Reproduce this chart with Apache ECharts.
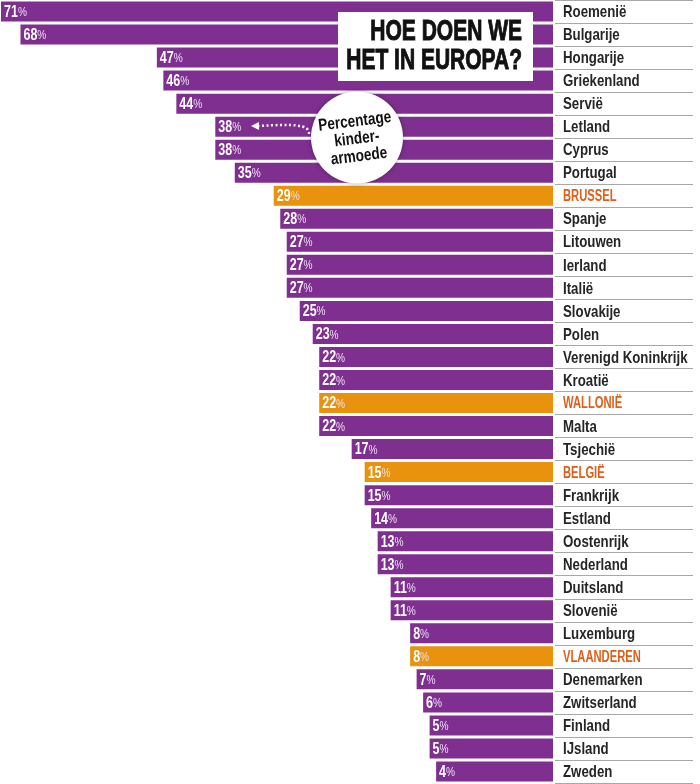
<!DOCTYPE html>
<html>
<head>
<meta charset="utf-8">
<script src="https://cdn.jsdelivr.net/npm/echarts@6/dist/echarts.min.js"></script>
<style>
html,body{margin:0;padding:0;background:#fff;}
#chart{width:700px;height:784px;}
</style>
</head>
<body>
<div id="chart"></div>
<script>
const countries = ['Roemenië','Bulgarije','Hongarije','Griekenland','Servië','Letland','Cyprus','Portugal','BRUSSEL','Spanje','Litouwen','Ierland','Italië','Slovakije','Polen','Verenigd Koninkrijk','Kroatië','WALLONIË','Malta','Tsjechië','BELGIË','Frankrijk','Estland','Oostenrijk','Nederland','Duitsland','Slovenië','Luxemburg','VLAANDEREN','Denemarken','Zwitserland','Finland','IJsland','Zweden'];
const values = [71,68,47,46,44,38,38,35,29,28,27,27,27,25,23,22,22,22,22,17,15,15,14,13,13,11,11,8,8,7,6,5,5,4];
const highlighted = ['BRUSSEL','WALLONIË','BELGIË','VLAANDEREN'];
const titleLines = ['HOE DOEN WE','HET IN EUROPA?'];
const badgeLines = ['Percentage','kinder-','armoede'];

const BASE = 14; // every bar starts this far right of the zero value
const PURPLE = '#7e2f8f', ORANGE = '#e8920e', HL_TEXT = '#df5f1a';
const SANS = '"Liberation Sans",Arial,sans-serif';

const isHL = name => highlighted.includes(name);
const colorOf = name => isHL(name) ? ORANGE : PURPLE;

const chart = echarts.init(document.getElementById('chart'));
chart.setOption({
  animation: false,
  grid: [
    {left: 1, right: 147, top: 0, bottom: 1, outerBoundsMode: 'none', containLabel: false},
    {left: 555, right: 7, top: 0, bottom: 1, outerBoundsMode: 'none', containLabel: false}
  ],
  xAxis: [
    {type: 'value', gridIndex: 0, inverse: true, min: -BASE, max: 71, startValue: -BASE, show: false},
    {type: 'value', gridIndex: 1, min: 0, max: 1, show: false}
  ],
  yAxis: [
    {
      type: 'category', gridIndex: 0, data: countries, inverse: true,
      axisLine: {show: false}, axisTick: {show: false}, splitLine: {show: false}, axisLabel: {show: false}
    },
    {
      type: 'category', gridIndex: 1, data: countries, inverse: true,
      axisLine: {show: false}, axisTick: {show: false}, axisLabel: {show: false},
      splitLine: {show: true, lineStyle: {color: '#a8a8a8', width: 1}}
    }
  ],
  series: [
    {
      type: 'bar', barWidth: 20, xAxisIndex: 0, yAxisIndex: 0, silent: true,
      data: values.map((v, i) => ({value: v, itemStyle: {color: colorOf(countries[i])}}))
    },
    {
      type: 'custom', xAxisIndex: 0, yAxisIndex: 0, z: 5, silent: true,
      data: values.map((v, i) => [v, i]),
      renderItem: (params, api) => {
        const v = api.value(0), i = api.value(1), name = countries[i];
        const left = api.coord([v, i]);
        const right = api.coord([-BASE, i]);
        const hl = isHL(name);
        return {
          type: 'group',
          children: [
            {
              type: 'text', x: left[0] + 3, y: left[1] + 1, scaleX: 0.78,
              style: {
                text: `{n|${v}}{p|%}`, align: 'left', verticalAlign: 'middle',
                rich: {
                  n: {font: `bold 16px ${SANS}`, fill: '#fff'},
                  p: {font: `13px ${SANS}`, fill: '#ece0f2'}
                }
              }
            },
            {
              type: 'text', x: right[0] + 10, y: right[1] + 1, scaleX: hl ? 0.7 : 0.78,
              style: {
                text: name, align: 'left', verticalAlign: 'middle',
                font: `bold ${hl ? 16 : 17}px ${SANS}`, fill: hl ? HL_TEXT : '#262626'
              }
            }
          ]
        };
      }
    }
  ],
  graphic: [
    {type: 'rect', z: 100, shape: {x: 338, y: 12, width: 195, height: 69}, style: {fill: '#fff'}},
    {type: 'text', z: 101, x: 522, y: 32, scaleX: 0.7, style: {text: titleLines[0], x: 0, y: 0, align: 'right', verticalAlign: 'middle', font: `bold 30px ${SANS}`, fill: '#111', stroke: '#111', lineWidth: 1}},
    {type: 'text', z: 101, x: 522, y: 61, scaleX: 0.7, style: {text: titleLines[1], x: 0, y: 0, align: 'right', verticalAlign: 'middle', font: `bold 30px ${SANS}`, fill: '#111', stroke: '#111', lineWidth: 1}},
    {type: 'bezierCurve', z: 100, shape: {x1: 309, y1: 134, cpx1: 310, cpy1: 124, cpx2: 292, cpy2: 124, x2: 259, y2: 126},
     style: {stroke: '#fff', lineWidth: 2.5, lineDash: [2, 2.5], fill: null}},
    {type: 'polygon', z: 100, shape: {points: [[251, 126], [259, 122], [259, 130]]}, style: {fill: '#fff'}},
    {type: 'circle', z: 101, shape: {cx: 357, cy: 137.5, r: 46}, style: {fill: '#fff', shadowBlur: 4, shadowColor: 'rgba(0,0,0,0.35)'}},
    {
      type: 'group', x: 357, y: 139, rotation: 0.12,
      children: badgeLines.map((t, i) => ({
        type: 'text', z: 102, x: 0, y: (i - 1) * 17.5, scaleX: 0.8,
        style: {text: t, x: 0, y: 0, align: 'center', verticalAlign: 'middle', font: `bold 17px ${SANS}`, fill: '#111'}
      }))
    }
  ]
});
</script>
</body>
</html>
